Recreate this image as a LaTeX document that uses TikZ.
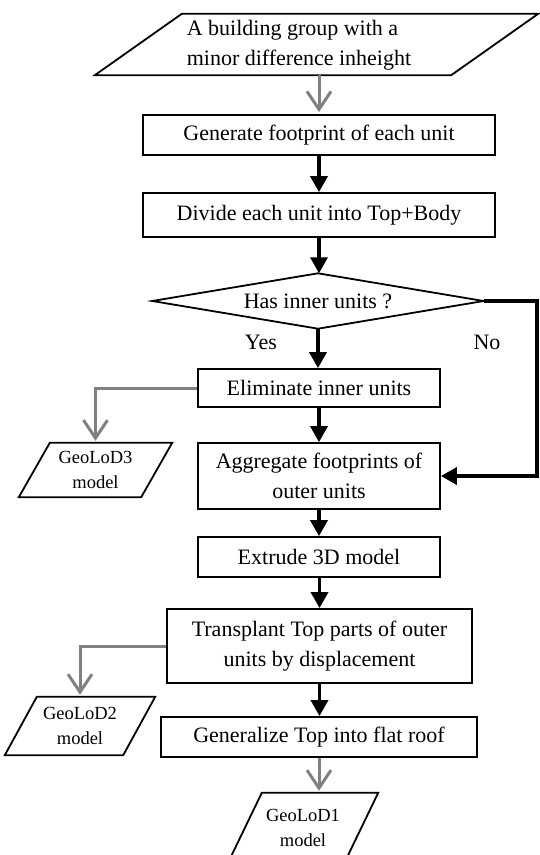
\documentclass[tikz,border=0pt]{standalone}
\usepackage{fontspec}
\setmainfont{Liberation Serif}
\usetikzlibrary{arrows.meta,calc}
\definecolor{arrowgray}{RGB}{128,128,128}
\newcommand\drawio[2]{\draw[shapeline] ([xshift=#2]#1.north west) -- (#1.north east) -- ([xshift=-#2]#1.south east) -- (#1.south west) -- cycle;}
\begin{document}
\begin{tikzpicture}[x=1pt,y=-1pt,
  mainfont/.style={font=\fontsize{22}{29.5}\selectfont},
  smallfont/.style={font=\fontsize{18.5}{25}\selectfont},
  shapeline/.style={line width=1.8pt, line join=miter},
  proc/.style={draw, shapeline, rectangle, inner sep=0pt, align=center, mainfont},
  frame/.style={rectangle, inner sep=0pt, align=center},
  blk/.style={line width=3.5pt, -{Triangle[length=16pt,width=17pt]}},
  gry/.style={line width=3pt, draw=arrowgray, -{Straight Barb[length=18pt,width=24pt]}, shorten >=2pt},
  lbl/.style={inner sep=0pt, mainfont}
]
\path[use as bounding box, fill=white] (0,0) rectangle (540,855);

% input parallelogram
\node[frame, minimum width=443pt, minimum height=61pt] (in) at (316.5,44.5) {};
\drawio{in}{87pt}
\node[lbl, align=left] (intext) at (299,45) {A building group with a\\minor difference inheight};

\node[proc, minimum width=352pt, minimum height=40pt] (b1) at (319,135) {Generate footprint of each unit};
\node[proc, minimum width=352pt, minimum height=44pt] (b2) at (319,215) {Divide each unit into Top+Body};

% decision
\node[frame, mainfont, minimum width=331pt, minimum height=55pt] (d) at (318,301) {Has inner units ?};
\draw[shapeline] (d.north) -- (d.east) -- (d.south) -- (d.west) -- cycle;

\node[lbl] (yes) at (261,342) {Yes};
\node[lbl] (no) at (487,342) {No};

\node[proc, minimum width=242pt, minimum height=38pt] (b3) at (319,388) {Eliminate inner units};
\node[proc, minimum width=242pt, minimum height=66pt] (b4) at (319,476) {Aggregate footprints of\\outer units};
\node[proc, minimum width=242pt, minimum height=40pt] (b5) at (319,557) {Extrude 3D model};
\node[proc, minimum width=305pt, minimum height=74pt] (b6) at (319.5,646) {Transplant Top parts of outer\\units by displacement};
\node[proc, minimum width=316pt, minimum height=40pt] (b7) at (319,737) {Generalize Top into flat roof};

% outputs
\node[frame, smallfont, minimum width=153pt, minimum height=54pt] (g3) at (95.5,470) {GeoLoD3\\model};
\drawio{g3}{31pt}
\node[frame, smallfont, minimum width=150pt, minimum height=58pt] (g2) at (80,726) {GeoLoD2\\model};
\drawio{g2}{32pt}
\node[frame, smallfont, minimum width=150pt, minimum height=70pt, text depth=0pt] (g1) at (303,828) {GeoLoD1\\model};
\drawio{g1}{34pt}

% connectors
\draw[gry] (in.south -| b1.north) -- (b1.north);
\draw[blk] (b1) -- (b2);
\draw[blk] (b2.south) -- (b2.south |- d.north);
\draw[blk] (d.south) -- (d.south |- b3.north);
\draw[blk] (b3) -- (b4);
\draw[blk] (b4) -- (b5);
\draw[blk] (b5.south) -- (b5.south -| b6.north) -- (b6.north);
\draw[blk] (b6.south) -- (b6.south |- b7.north);
\coordinate (nocorner) at (537,301);
\draw[blk] (d.east) -- (nocorner) |- (b4.east);
\draw[gry] (b3.west) -| (g3.north);
\draw[gry] (b6.west) -| (g2.north);
\draw[gry] (b7.south) -- (b7.south |- g1.north);
\end{tikzpicture}
\end{document}
